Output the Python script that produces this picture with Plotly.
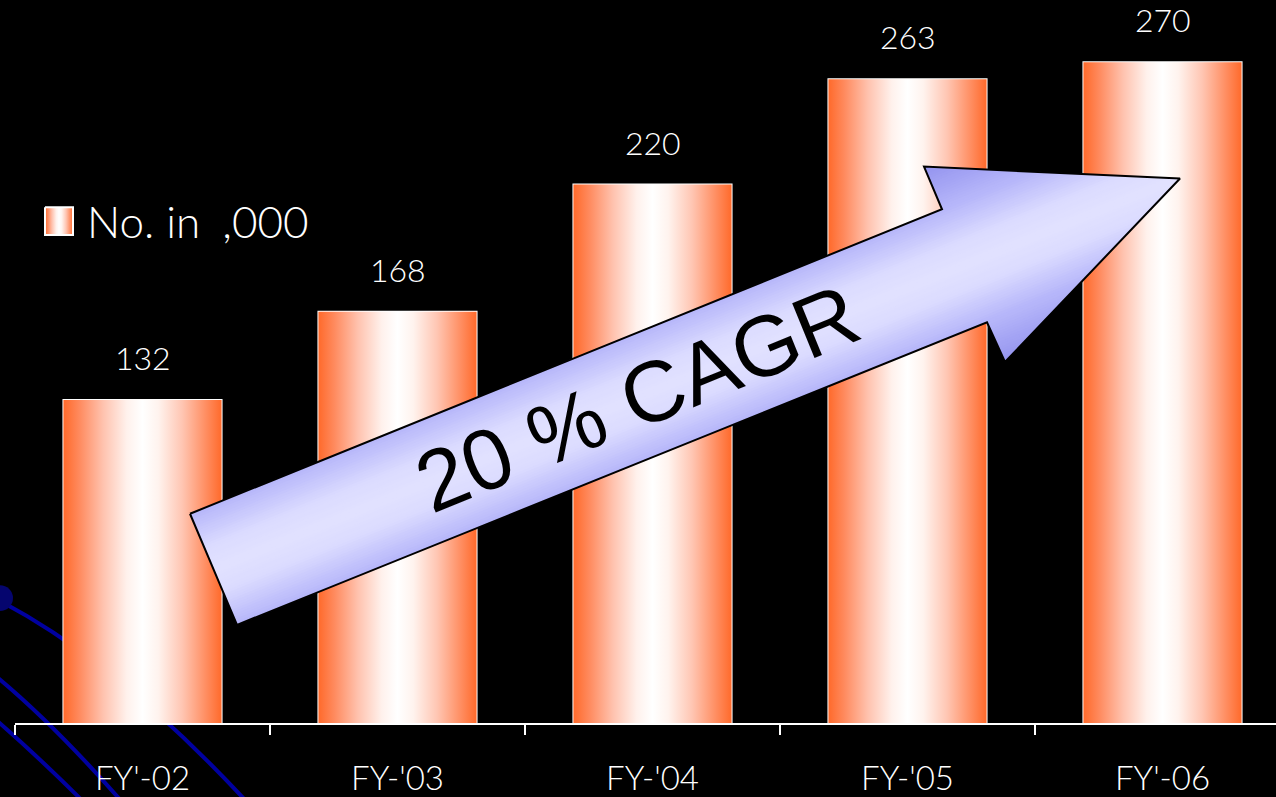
import numpy as np
import plotly.graph_objects as go

# ---- data -------------------------------------------------------------
years = ["FY'-02", "FY-'03", "FY-'04", "FY-'05", "FY'-06"]
members = [132, 168, 220, 263, 270]
series_name = "No. in\u2002,000"
growth_label = "20 % CAGR"

# ---- page geometry ----------------------------------------------------
W, H = 1276, 797
L, R, T, B = 15, 0, 0, 68
PW, PH = W - L - R, H - T - B
CAT_PX = 255            # pixels per category slot
BAR_W = 0.62            # bar width in category units
Y_TOP = 295.4

TICK_FONT = "Lato"
LIGHT = 300

bar_scale = [
    [0.00, "#FF6A2B"], [0.10, "#FF8A5E"], [0.25, "#FFC2AE"],
    [0.40, "#FFF1EC"], [0.50, "#FFFFFF"], [0.60, "#FFF3EE"],
    [0.75, "#FFC6B3"], [0.90, "#FF8E62"], [1.00, "#FF6A2B"],
]

fig = go.Figure()

# gradient bodies of the bars
for i, v in enumerate(members):
    x0, x1 = i - BAR_W / 2, i + BAR_W / 2
    fig.add_trace(go.Scatter(
        x=[x0, x1, x1, x0, x0], y=[0, 0, v, v, 0],
        mode="lines", fill="toself", line=dict(width=0),
        fillgradient=dict(type="horizontal", colorscale=bar_scale),
        hoverinfo="skip", showlegend=False,
    ))

# bar outlines
fig.add_trace(go.Bar(
    x=list(range(len(years))), y=members, width=BAR_W,
    marker=dict(color="rgba(0,0,0,0)", line=dict(color="white", width=2)),
    name=series_name, showlegend=False, hoverinfo="skip",
))

# value labels
for i, v in enumerate(members):
    fig.add_annotation(
        x=i, y=v, xref="x", yref="y", text=str(v), showarrow=False,
        yanchor="bottom", yshift=21,
        font=dict(family=TICK_FONT, size=32, color="white", weight=LIGHT),
    )

# ---- growth arrow (pixel overlay axes x2/y2) ---------------------------
arrow_px = np.array([
    (190, 518), (942, 211), (924, 168), (1180, 180),
    (1005, 365), (987, 325), (237, 630),
], dtype=float)
origin = (arrow_px[0] + arrow_px[6]) / 2
axis_dir = arrow_px[1] - arrow_px[0]
axis_dir /= np.linalg.norm(axis_dir)
normal = np.array([-axis_dir[1], axis_dir[0]])


def to_uv(p):
    d = p - origin
    return (float(d @ axis_dir), float(d @ normal))


def to_px(uv):
    return origin + uv[0] * axis_dir + uv[1] * normal


def clip_band(poly, half):
    def clip(pts, sign):
        out = []
        n = len(pts)
        for k in range(n):
            p, q = pts[k], pts[(k + 1) % n]
            ip, iq = sign * p[1] <= half, sign * q[1] <= half
            if ip:
                out.append(p)
            if ip != iq:
                t = (half - sign * p[1]) / (sign * q[1] - sign * p[1])
                out.append((p[0] + t * (q[0] - p[0]), p[1] + t * (q[1] - p[1])))
        return out
    return clip(clip(poly, 1), -1)


shade_stops = [(0, (226, 226, 255)), (25, (219, 219, 255)),
               (60, (184, 184, 250)), (110, (146, 146, 238))]


def shade(dist):
    for (d0, c0), (d1, c1) in zip(shade_stops[:-1], shade_stops[1:]):
        if dist <= d1:
            t = (dist - d0) / (d1 - d0)
            c = [round(a + t * (b - a)) for a, b in zip(c0, c1)]
            return f"rgb({c[0]},{c[1]},{c[2]})"
    c = shade_stops[-1][1]
    return f"rgb({c[0]},{c[1]},{c[2]})"


arrow_uv = [to_uv(p) for p in arrow_px]
for half in np.arange(112, 0, -2.5):
    band = clip_band(arrow_uv, half)
    if len(band) < 3:
        continue
    pts = np.array([to_px(q) for q in band] + [to_px(band[0])])
    fig.add_trace(go.Scatter(
        x=pts[:, 0], y=pts[:, 1], xaxis="x2", yaxis="y2",
        mode="lines", fill="toself", fillcolor=shade(half),
        line=dict(width=0), hoverinfo="skip", showlegend=False,
    ))

outline = np.vstack([arrow_px, arrow_px[:1]])
fig.add_trace(go.Scatter(
    x=outline[:, 0], y=outline[:, 1], xaxis="x2", yaxis="y2",
    mode="lines", line=dict(color="black", width=2),
    hoverinfo="skip", showlegend=False,
))

fig.add_annotation(
    x=637, y=401, xref="x2", yref="y2", text=growth_label, showarrow=False,
    textangle=-22.2, xanchor="center", yanchor="middle",
    font=dict(family="Liberation Sans", size=86, color="black"),
)

# ---- legend key --------------------------------------------------------
fig.add_trace(go.Scatter(
    x=[45, 73, 73, 45, 45], y=[209, 209, 237, 237, 209],
    xaxis="x2", yaxis="y2", mode="lines", fill="toself",
    line=dict(color="white", width=2),
    fillgradient=dict(type="horizontal", colorscale=bar_scale),
    hoverinfo="skip", showlegend=False,
))
fig.add_annotation(
    x=85, y=223, xref="x2", yref="y2", text=series_name, showarrow=False,
    xanchor="left", yanchor="middle",
    font=dict(family=TICK_FONT, size=44, color="white", weight=LIGHT),
)


# ---- decorative orbit lines in the lower-left corner --------------------
def pp(x, y):
    return f"{(x - L) / PW:.5f},{(T + PH - y) / PH:.5f}"


orbit_color = "#0000A0"
for a, c, b in [((2, 607), (120, 670), (250, 812)),
                ((-5, 681), (55, 731), (125, 812)),
                ((-5, 725), (35, 760), (80, 805))]:
    fig.add_shape(
        type="path", xref="paper", yref="paper", layer="below",
        path=f"M{pp(*a)} Q{pp(*c)} {pp(*b)}",
        line=dict(color=orbit_color, width=4),
    )
fig.add_shape(
    type="circle", xref="paper", yref="paper", layer="below",
    x0=(-13 - L) / PW, x1=(13 - L) / PW,
    y0=(T + PH - 616) / PH, y1=(T + PH - 590) / PH,
    fillcolor="#05056E", line=dict(width=0),
)

# ---- axes & layout -----------------------------------------------------
fig.update_layout(
    width=W, height=H,
    margin=dict(l=L, r=R, t=T, b=B, pad=0),
    paper_bgcolor="black", plot_bgcolor="rgba(0,0,0,0)",
    showlegend=False,
    xaxis=dict(
        range=[-0.5, -0.5 + PW / CAT_PX],
        tickvals=list(range(len(years))), ticktext=years,
        ticks="", showgrid=False, zeroline=False,
        showline=True, linecolor="white", linewidth=2,
        tickfont=dict(family=TICK_FONT, size=33, color="white", weight=LIGHT),
        ticklabelstandoff=25,
        minor=dict(tickvals=[i - 0.5 for i in range(len(years) + 1)],
                   ticks="outside", ticklen=10, tickwidth=2,
                   tickcolor="white", showgrid=False),
        fixedrange=True,
    ),
    yaxis=dict(range=[0, Y_TOP], visible=False, fixedrange=True),
    xaxis2=dict(overlaying="x", range=[L, W - R], visible=False,
                anchor="y2", fixedrange=True),
    yaxis2=dict(overlaying="y", range=[T + PH, T], visible=False,
                anchor="x2", fixedrange=True),
)

fig.write_html("out.html", config={"displayModeBar": False})
